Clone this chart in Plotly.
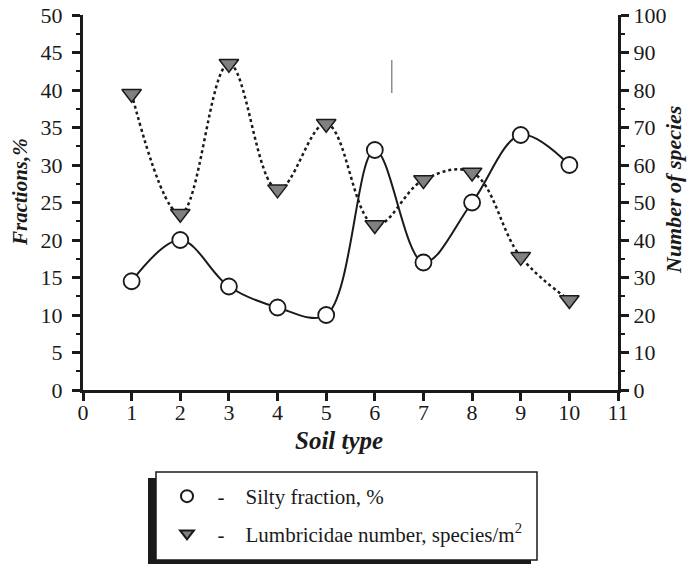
import plotly.graph_objects as go

soil_type = [1, 2, 3, 4, 5, 6, 7, 8, 9, 10]
silty_fraction = [14.5, 20, 13.8, 11, 10, 32, 17, 25, 34, 30]
lumbricidae = [79, 47, 87, 53.5, 71, 44, 56, 58, 35.5, 24]

x_ticks = list(range(0, 12))
y1_ticks = list(range(0, 55, 5))
y2_ticks = list(range(0, 110, 10))

W, H = 689, 565
FONT = "Liberation Serif"
INK = "#1a1a1a"
NB = "\u00a0"


def fx(px):
    return px / W


def fy(py):
    return 1 - py / H


fig = go.Figure()

fig.add_trace(go.Scatter(
    x=soil_type, y=silty_fraction, mode="lines+markers",
    line=dict(color=INK, width=2, shape="spline", smoothing=1),
    marker=dict(symbol="circle", size=16, color="white",
                line=dict(color=INK, width=1.8)),
    showlegend=False))

fig.add_trace(go.Scatter(
    x=soil_type, y=lumbricidae, mode="lines+markers", yaxis="y2",
    line=dict(color=INK, width=2.5, shape="spline", smoothing=1.1, dash="dot"),
    marker=dict(symbol="triangle-down", size=17, color="#808080",
                line=dict(color=INK, width=1.5)),
    showlegend=False))

# legend entries
fig.add_trace(go.Scatter(
    x=[None], y=[None], mode="markers", legendgroup="a",
    name=NB * 2 + "-" + NB * 4 + "Silty fraction, %",
    marker=dict(symbol="circle", size=14, color="white",
                line=dict(color=INK, width=1.8))))
fig.add_trace(go.Scatter(
    x=[None], y=[None], mode="markers", legendgroup="b",
    name=NB * 2 + "-" + NB * 4 + "Lumbricidae number, species/m<sup>2</sup>",
    marker=dict(symbol="triangle-down", size=14, color="#808080",
                line=dict(color=INK, width=1.5))))

axis_common = dict(showgrid=False, zeroline=False, showline=True, linewidth=3,
                   linecolor=INK, ticks="outside", ticklen=8, tickwidth=2.5,
                   tickcolor=INK, automargin=False,
                   tickfont=dict(size=22, family=FONT, color=INK))

fig.update_layout(
    width=W, height=H,
    margin=dict(l=0, r=0, t=0, b=0, autoexpand=False),
    paper_bgcolor="white", plot_bgcolor="white",
    font=dict(family=FONT, color=INK, size=20),
    xaxis=dict(range=[0, 11], tickvals=x_ticks, domain=[fx(83), fx(618)],
               ticklabelstandoff=-7, **axis_common),
    yaxis=dict(range=[0, 50], tickvals=y1_ticks, ticklabelstandoff=5,
               domain=[fy(390), fy(15)],
               minor=dict(dtick=2.5, ticks="outside", ticklen=4, tickwidth=2,
                          tickcolor=INK, showgrid=False),
               **axis_common),
    yaxis2=dict(range=[0, 100], tickvals=y2_ticks, overlaying="y", side="right",
                minor=dict(dtick=5, ticks="outside", ticklen=4, tickwidth=2,
                           tickcolor=INK, showgrid=False),
                **axis_common),
    legend=dict(x=fx(167), y=fy(476), xanchor="left", yanchor="top",
                bgcolor="rgba(0,0,0,0)", borderwidth=0,
                font=dict(family=FONT, size=21, color=INK),
                tracegroupgap=7, itemsizing="constant"),
    showlegend=True,
)

# legend box with shadow
fig.add_shape(type="rect", xref="paper", yref="paper",
              x0=fx(148), x1=fx(531), y0=fy(564), y1=fy(478),
              fillcolor=INK, line=dict(width=0), layer="above")
fig.add_shape(type="rect", xref="paper", yref="paper",
              x0=fx(156), x1=fx(537), y0=fy(560), y1=fy(472),
              fillcolor="white", line=dict(color=INK, width=1.5), layer="above")

# stray thin line from the original
fig.add_shape(type="line", xref="x", yref="y", x0=6.35, x1=6.35, y0=39.6, y1=44,
              line=dict(color="#555555", width=1))

fig.add_annotation(text="<b><i>Soil type</i></b>", xref="paper", yref="paper",
                   x=fx(339), y=fy(440), xanchor="center", yanchor="middle",
                   showarrow=False, font=dict(family=FONT, size=25, color=INK))
fig.add_annotation(text="<b><i>Fractions,%</i></b>", xref="paper", yref="paper",
                   x=fx(20), y=fy(192), xanchor="center", yanchor="middle",
                   showarrow=False, textangle=-90,
                   font=dict(family=FONT, size=21, color=INK))
fig.add_annotation(text="<b><i>Number of species</i></b>", xref="paper", yref="paper",
                   x=fx(673), y=fy(190), xanchor="center", yanchor="middle",
                   showarrow=False, textangle=-90,
                   font=dict(family=FONT, size=22, color=INK))

fig.write_html("out.html",
               config={"displayModeBar": False},
               post_script="document.body.style.margin='0px';"
                           "document.body.style.overflow='hidden';")
